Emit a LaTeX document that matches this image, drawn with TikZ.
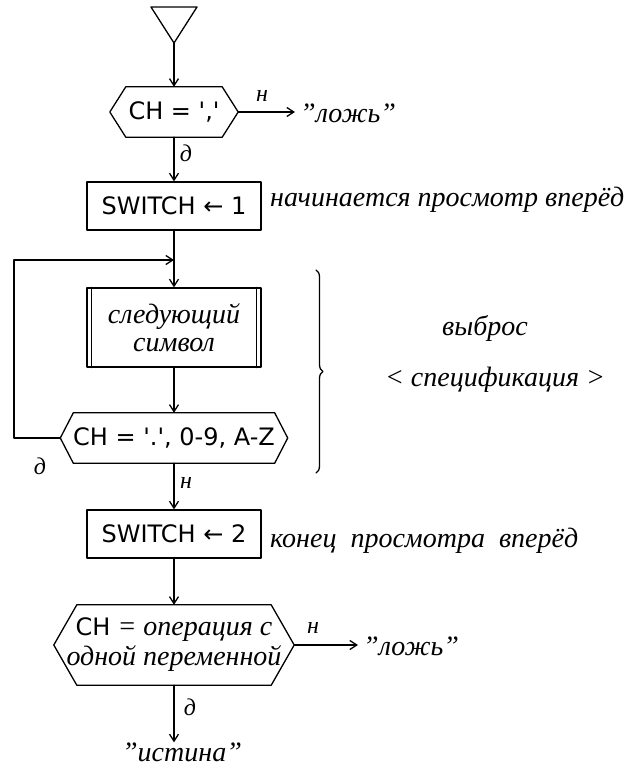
\documentclass[tikz,border=0pt]{standalone}
\usepackage{fontspec}
\setmainfont{Liberation Serif}
\newfontfamily\blockfont{DejaVu Sans}
\usetikzlibrary{arrows.meta,decorations.pathreplacing}
\tikzset{
  line/.style={line width=1.3pt, line cap=round, line join=round},
  arr/.style={line, -{Straight Barb[length=7pt,width=9pt,line width=1.3pt]}},
  hand/.style={font=\itshape\fontsize{28}{30}\selectfont, inner sep=0pt},
  blk/.style={font=\blockfont\fontsize{24}{28}\selectfont},
  lbl/.style={font=\itshape\fontsize{24}{26}\selectfont, inner sep=0pt},
  procbox/.style={draw, line, minimum width=174pt, inner sep=0pt},
  hexnode/.style={inner sep=0pt},
}
\newcommand\drawhex[2]{\draw[line] (#1.west) -- ([xshift=#2]#1.north west) -- ([xshift=-#2]#1.north east) -- (#1.east) -- ([xshift=-#2]#1.south east) -- ([xshift=#2]#1.south west) -- cycle;}
\begin{document}
\begin{tikzpicture}[x=1pt,y=-1pt]
\useasboundingbox (0,0) rectangle (642,771);
% start triangle
\coordinate (tri) at (174,43);
\draw[line] (151,7) -- (197,7) -- (tri) -- cycle;
% hexagon 1
\node[hexnode, minimum width=128pt, minimum height=50pt, blk] (h1) at (174,112) {CH = ',' };
\drawhex{h1}{16pt}
\node[hand, anchor=west] (f1) at (300,113) {"ложь"};
\node[lbl] (n1) at (262,96) {н};
\draw[arr] (tri) -- (h1.north);
\draw[arr, shorten >=5pt] (h1.east) -- (h1.east -| f1.west);
% switch 1
\node[procbox, minimum height=48pt, blk] (b1) at (174,206) {SWITCH ← 1};
\node[lbl] (d1) at (186,153) {д};
\draw[arr] (h1.south) -- (b1.north);
\node[hand, anchor=west] (c1) at (270,200) {начинается просмотр вперёд};
% next symbol
\coordinate (J) at (174,260);
\node[procbox, minimum height=79pt, align=center, hand, inner sep=0pt] (b3) at (174,327.5) {следующий\\[-2pt]символ};
\draw[line] ([xshift=5pt]b3.north west) -- ([xshift=5pt]b3.south west);
\draw[line] ([xshift=-5pt]b3.north east) -- ([xshift=-5pt]b3.south east);
\draw[arr] (b1.south) -- (b3.north);
% hexagon 2
\node[hexnode, minimum width=227pt, minimum height=50pt, blk] (h2) at (174,438) {CH = '.', 0-9, A-Z};
\drawhex{h2}{13pt}
\draw[arr] (b3.south) -- (h2.north);
\coordinate (L1) at (14,438);
\coordinate (L2) at (14,260);
\draw[arr] (h2.west) -- (L1) -- (L2) -- (J);
\node[lbl] (d2) at (40,466) {д};
% brace
\coordinate (B1) at (316,270);
\coordinate (B2) at (316,473);
\draw[line, decorate, decoration={brace, amplitude=7pt}] (B1) -- (B2);
\node[hand] (v1) at (485,328) {выброс};
\node[hand] (v2) at (495,380) {< спецификация >};
% switch 2
\node[procbox, minimum height=48pt, blk] (b2) at (174,534) {SWITCH ← 2};
\node[lbl] (n2) at (186,483) {н};
\draw[arr] (h2.south) -- (b2.north);
\node[hand, anchor=west] (c2) at (270,541) {конец\ \ просмотра\ \ вперёд};
% hexagon 3
\node[hexnode, minimum width=240pt, minimum height=80pt, align=center, hand] (h3) at (174,645) {{\upshape\blockfont\fontsize{24}{28}\selectfont CH} = операция с\\одной переменной};
\drawhex{h3}{23pt}
\draw[arr] (b2.south) -- (h3.north);
\node[hand, anchor=west] (f2) at (363,646) {"ложь"};
\node[lbl] (n3) at (313,628) {н};
\draw[arr, shorten >=5pt] (h3.east) -- (h3.east -| f2.west);
\node[hand] (tr) at (182,752) {"истина"};
\node[lbl] (d3) at (190,707) {д};
\draw[arr] (h3.south) -- (h3.south |- tr.north);
\end{tikzpicture}
\end{document}
